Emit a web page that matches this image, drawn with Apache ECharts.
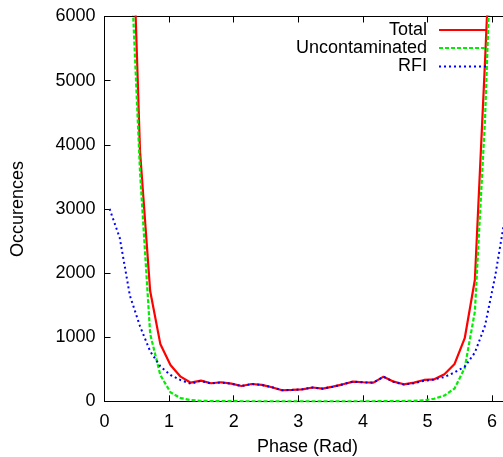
<!DOCTYPE html>
<html>
<head>
<meta charset="utf-8">
<script src="https://cdn.jsdelivr.net/npm/echarts@6/dist/echarts.min.js"></script>
<style>
html,body{margin:0;padding:0;background:#fff;}
#main{width:503px;height:457px;}
</style>
</head>
<body>
<div id="main"></div>
<script>
//相位 (bin centres, rad)
var phase = [0.0785, 0.2356, 0.3927, 0.5498, 0.7069, 0.8639, 1.0210, 1.1781, 1.3352, 1.4923,
    1.6493, 1.8064, 1.9635, 2.1206, 2.2777, 2.4347, 2.5918, 2.7489, 2.9060, 3.0631,
    3.2201, 3.3772, 3.5343, 3.6914, 3.8485, 4.0055, 4.1626, 4.3197, 4.4768, 4.6338,
    4.7909, 4.9480, 5.1051, 5.2622, 5.4192, 5.5763, 5.7334, 5.8905, 6.0476, 6.2046];
//Total
var total = [28000, 17000, 8800, 3900, 1720, 895, 567, 384, 290, 322,
    281, 297, 275, 239, 270, 255, 219, 172, 177, 187,
    215, 197, 228, 265, 306, 297, 291, 384, 306, 265,
    291, 333, 343, 422, 583, 984, 1895, 5300, 9000, 16000];
//Uncontaminated
var uncont = [26000, 15000, 7200, 3580, 1050, 410, 140, 50, 20, 8,
    4, 3, 2, 1, 1, 0, 0, 0, 0, 0,
    0, 0, 0, 0, 0, 1, 1, 2, 3, 5,
    8, 15, 40, 90, 200, 520, 1400, 4400, 9000, 17000];
//RFI
var rfi = [3000, 2550, 1650, 1170, 780, 545, 410, 330, 275, 318,
    278, 294, 273, 238, 269, 255, 219, 172, 177, 187,
    215, 197, 228, 265, 306, 296, 290, 382, 303, 260,
    283, 320, 340, 380, 450, 540, 760, 1180, 1950, 2900];
var xTicks = [0, 1, 2, 3, 4, 5, 6];

var font = 'Liberation Sans';

function pairs(ys){
    var out = [];
    for(var i = 0; i < phase.length; i++){
        out.push([phase[i], ys[i]]);
    }
    return out;
}

//每个图例单独放，右对齐
function legendAt(name, top){
    return {
        data: [name],
        right: 16,
        top: top,
        align: 'right',
        padding: 0,
        itemWidth: 47,
        itemHeight: 14,
        selectedMode: false,
        itemStyle: {opacity: 0},
        textStyle: {fontFamily: font, fontSize: 18, color: '#000', padding: [0, 7, 0, 0]}
    };
}

var myChart = echarts.init(document.getElementById('main'));
var option = {
    animation: false,
    backgroundColor: '#fff',
    legend: [legendAt('Total', 21), legendAt('Uncontaminated', 39), legendAt('RFI', 57.5)],
    grid: {left: 104.5, top: 16.5, bottom: 55.7, right: -7.4, outerBoundsMode: 'none'},
    xAxis: [{
        type: 'value',
        min: 0,
        max: 6.2832,
        interval: 1,
        name: 'Phase (Rad)',
        nameLocation: 'middle',
        nameGap: 37,
        nameTextStyle: {fontFamily: font, fontSize: 18, color: '#000'},
        axisLine: {show: true, lineStyle: {color: '#000', width: 1}},
        axisTick: {inside: true, length: 6, lineStyle: {color: '#000'}},
        axisLabel: {
            fontFamily: font, fontSize: 18, color: '#000', margin: 12, showMaxLabel: false,
            formatter: function(v){ return xTicks.indexOf(v) >= 0 ? String(v) : ''; }
        },
        splitLine: {show: false}
    }, {
        type: 'value',
        position: 'top',
        min: 0,
        max: 6.2832,
        interval: 1,
        axisLine: {show: true, onZero: false, lineStyle: {color: '#000', width: 1}},
        axisTick: {inside: true, length: 6, lineStyle: {color: '#000'}},
        axisLabel: {show: false},
        splitLine: {show: false}
    }],
    yAxis: {
        type: 'value',
        min: 0,
        max: 6000,
        interval: 1000,
        name: 'Occurences',
        nameLocation: 'middle',
        nameGap: 77,
        nameTextStyle: {fontFamily: font, fontSize: 18, color: '#000'},
        axisLine: {show: true, lineStyle: {color: '#000', width: 1}},
        axisTick: {show: true, inside: true, length: 6, lineStyle: {color: '#000'}},
        axisLabel: {
            fontFamily: font, fontSize: 18, color: '#000', margin: 9,
            formatter: function(v){ return String(v); }
        },
        splitLine: {show: false}
    },
    series: [{
        name: 'Total',
        type: 'line',
        symbol: 'none',
        data: pairs(total),
        lineStyle: {color: '#ff0000', width: 2.2, type: 'solid'},
        itemStyle: {color: '#ff0000'}
    }, {
        name: 'Uncontaminated',
        type: 'line',
        symbol: 'none',
        data: pairs(uncont),
        lineStyle: {color: '#00ee00', width: 2.2, type: [4, 2]},
        itemStyle: {color: '#00ee00'}
    }, {
        name: 'RFI',
        type: 'line',
        symbol: 'none',
        data: pairs(rfi),
        lineStyle: {color: '#0000ff', width: 2, type: [2, 3]},
        itemStyle: {color: '#0000ff'}
    }]
};
myChart.setOption(option);
</script>
</body>
</html>
